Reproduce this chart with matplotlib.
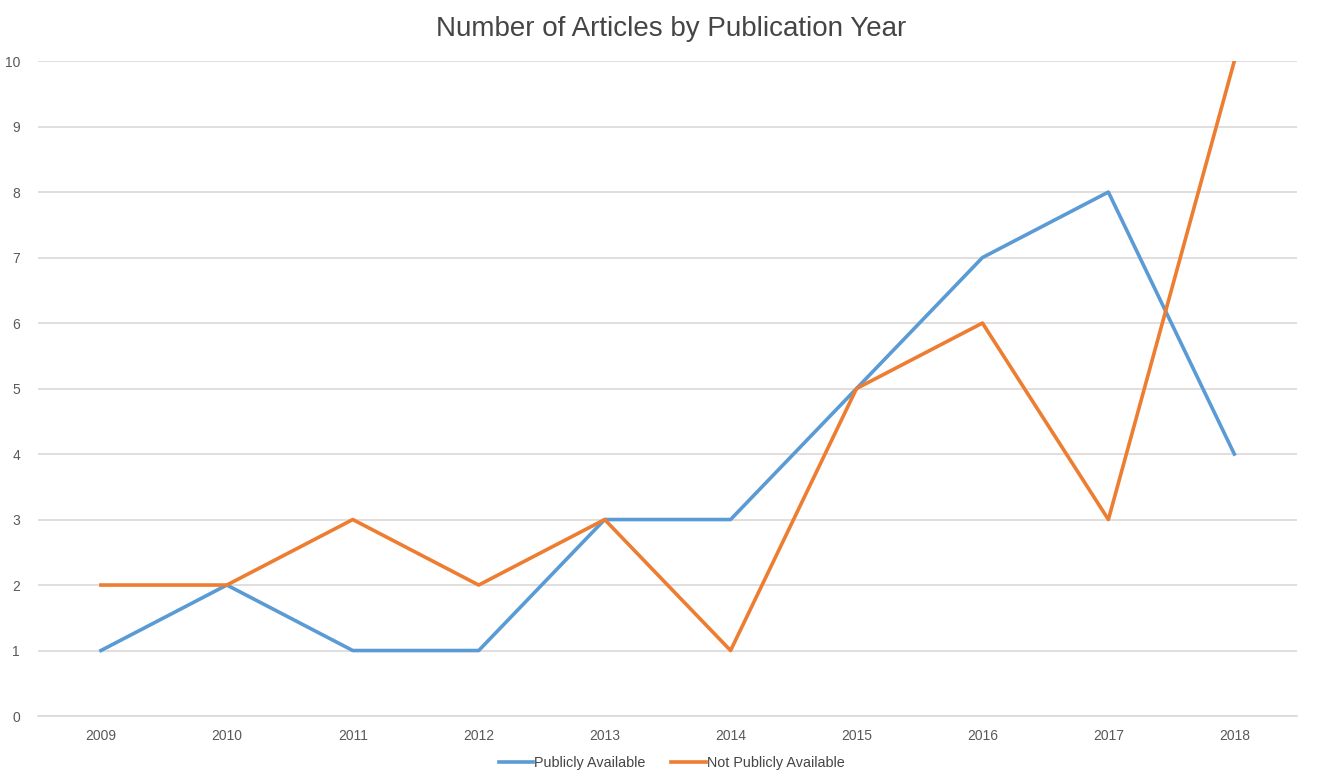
import matplotlib.pyplot as plt

years = ['2009', '2010', '2011', '2012', '2013', '2014', '2015', '2016', '2017', '2018']
public = [1, 2, 1, 1, 3, 3, 5, 7, 8, 4]
not_public = [2, 2, 3, 2, 3, 1, 5, 6, 3, 10]

plt.rcParams['font.family'] = ['Liberation Sans', 'DejaVu Sans']

fig = plt.figure(figsize=(13.27, 7.73), dpi=100)
ax = fig.add_axes([0.0286, 0.0737, 0.949, 0.8473])

x = range(len(years))
ax.plot(x, public, color='#5B9BD5', lw=2.6, label='Publicly Available', solid_joinstyle='round')
ax.plot(x, not_public, color='#ED7D31', lw=2.6, label='Not Publicly Available', solid_joinstyle='round')

ax.set_xlim(-0.5, len(years) - 0.5)
ax.set_ylim(0, 10)
ax.set_yticks(range(0, 11))
ax.set_xticks(list(x))
ax.set_xticklabels(years)
ax.grid(axis='y', color='#ddd8d8', lw=1.2)
ax.set_axisbelow(True)
for s in ['top', 'right', 'left']:
    ax.spines[s].set_visible(False)
ax.spines['bottom'].set_color('#ddd8d8')
ax.spines['bottom'].set_linewidth(1.2)
ax.tick_params(length=0, labelsize=10, colors='#595959')
ax.tick_params(axis='y', pad=13)
ax.tick_params(axis='x', pad=9)
for lab in ax.get_yticklabels():
    lab.set_horizontalalignment('right')

fig.text(0.506, 0.963, 'Number of Articles by Publication Year', ha='center', va='center',
         fontsize=20, color='#454545')
fig.legend(loc='center', bbox_to_anchor=(0.506, 0.013), ncol=2, frameon=False,
           fontsize=10.4, handlelength=2.4, handletextpad=0.05, columnspacing=1.8,
           labelcolor='#454545')

fig.savefig('out.png', dpi=100)
